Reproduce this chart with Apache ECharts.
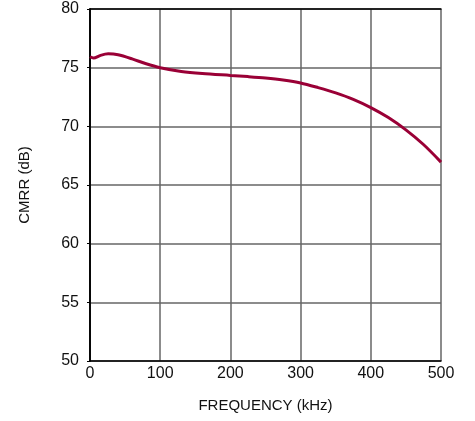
<!DOCTYPE html>
<html><head><meta charset="utf-8">
<script src="https://cdn.jsdelivr.net/npm/echarts@6/dist/echarts.min.js"></script>
<style>html,body{margin:0;padding:0;background:#fff}#c{width:475px;height:421px}</style>
</head><body><div id="c"></div>
<script>
const freqKHz = [0, 5, 15, 26, 40, 60, 80, 100, 130, 160, 200, 225, 250, 275, 300, 325, 350, 375, 400, 425, 450, 475, 500];
const cmrrDb  = [75.93, 75.82, 76.05, 76.18, 76.1, 75.75, 75.33, 75.0, 74.68, 74.5, 74.34, 74.24, 74.12, 73.95, 73.7, 73.3, 72.85, 72.3, 71.6, 70.75, 69.7, 68.45, 66.95];
const xTicks = [0, 100, 200, 300, 400, 500];
const yTicks = [50, 55, 60, 65, 70, 75, 80];

const font = 'Liberation Sans';
const frameAxis = {
  axisLine: {show: true, lineStyle: {color: '#000', width: 1.5}},
  axisTick: {show: false}, axisLabel: {show: false}, splitLine: {show: false}
};
const chart = echarts.init(document.getElementById('c'), null, {renderer: 'canvas'});
chart.setOption({
  animation: false,
  grid: {left: 90, right: 34, top: 9, bottom: 60},
  xAxis: [{
    type: 'value', min: xTicks[0], max: xTicks[xTicks.length - 1], interval: 100,
    name: 'FREQUENCY (kHz)', nameLocation: 'middle', nameGap: 37,
    nameTextStyle: {fontFamily: font, fontSize: 15, color: '#111'},
    axisLine: {show: true, lineStyle: {color: '#000', width: 1.5}},
    axisTick: {show: false},
    axisLabel: {fontFamily: font, fontSize: 16, color: '#111', margin: 5},
    splitLine: {show: true, lineStyle: {color: '#666', width: 1.5}}
  }, Object.assign({type: 'value', position: 'top', min: xTicks[0], max: xTicks[xTicks.length - 1], z: 5}, frameAxis)],
  yAxis: [{
    type: 'value', min: yTicks[0], max: yTicks[yTicks.length - 1], interval: 5,
    name: 'CMRR (dB)', nameLocation: 'middle', nameGap: 58, nameRotate: 90,
    nameTextStyle: {fontFamily: font, fontSize: 15, color: '#111'},
    axisLine: {show: true, lineStyle: {color: '#000', width: 1.5}},
    axisTick: {show: true, length: 3, lineStyle: {color: '#000', width: 1}},
    axisLabel: {fontFamily: font, fontSize: 16, color: '#111', margin: 11},
    splitLine: {show: true, lineStyle: {color: '#666', width: 1.5}}
  }, Object.assign({type: 'value', position: 'right', min: yTicks[0], max: yTicks[yTicks.length - 1], z: 5}, frameAxis)],
  series: [{
    type: 'line', data: freqKHz.map((f, i) => [f, cmrrDb[i]]),
    smooth: 0.3, showSymbol: false, z: 10,
    lineStyle: {color: '#9a0036', width: 3}
  }]
});
</script></body></html>
